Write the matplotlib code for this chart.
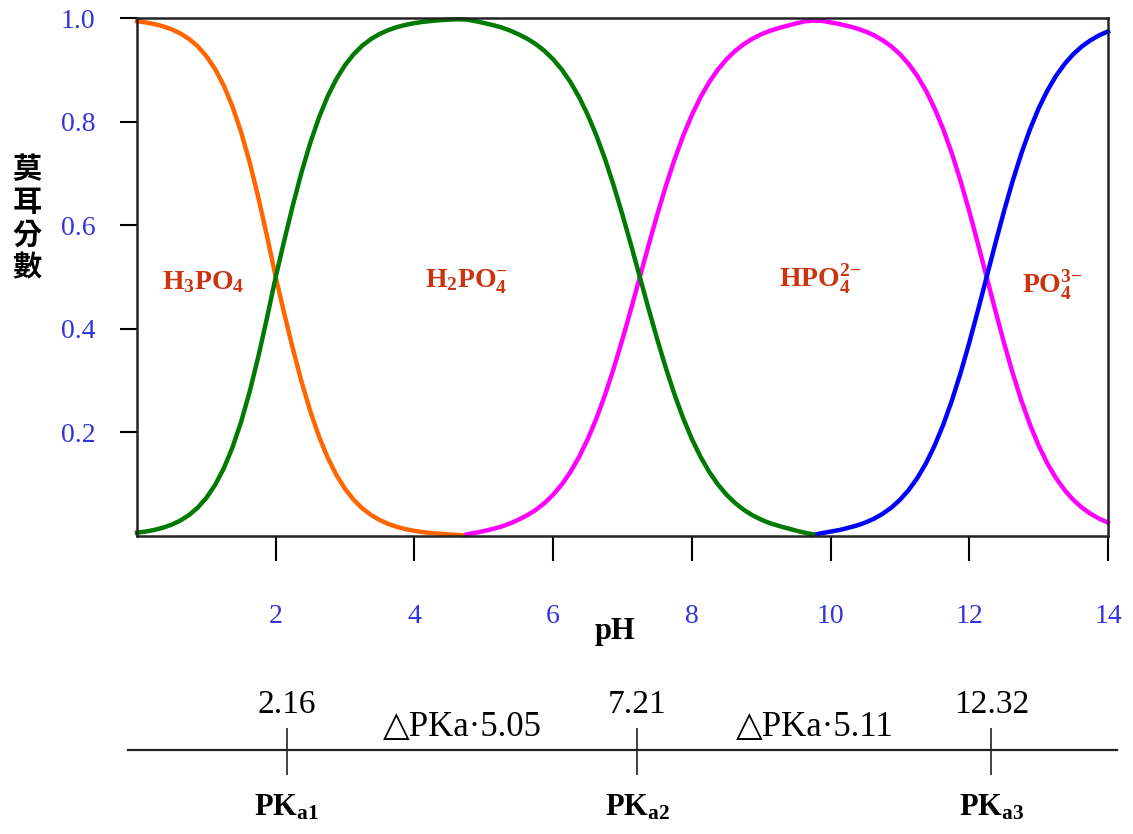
import numpy as np
import matplotlib
matplotlib.use("Agg")
import matplotlib.pyplot as plt

plt.rcParams['font.family'] = ['Liberation Serif', 'DejaVu Sans']
plt.rcParams['mathtext.fontset'] = 'custom'
plt.rcParams['mathtext.rm'] = 'Liberation Serif'
plt.rcParams['mathtext.bf'] = 'Liberation Serif:bold'
plt.rcParams['mathtext.default'] = 'rm'

# pH grid (step 0.125) and mole fractions
ph = np.arange(0, 14.001, 0.125)
h3po4 = [0.9937, 0.9914, 0.9883, 0.984, 0.9781, 0.9702, 0.9595, 0.9453,
         0.9264, 0.9017, 0.8698, 0.8296, 0.7801, 0.7211, 0.6532, 0.5786,
         0.5, 0.4285, 0.3599, 0.2966, 0.2403, 0.1917, 0.151, 0.1177,
         0.0909, 0.0698, 0.0532, 0.0405, 0.0307, 0.0232, 0.0175, 0.0132,
         0.0099, 0.0074, 0.0056, 0.0042, 0.003, 0.002, 0.001]
h2po4 = [0.0063, 0.0086, 0.0117, 0.016, 0.0219, 0.0298, 0.0405, 0.0547,
         0.0736, 0.0983, 0.1302, 0.1704, 0.2199, 0.2789, 0.3468, 0.4214,
         0.5, 0.5715, 0.6401, 0.7034, 0.7597, 0.8083, 0.849, 0.8823,
         0.9091, 0.9302, 0.9468, 0.9595, 0.9693, 0.9768, 0.9825, 0.9868,
         0.9901, 0.9926, 0.9944, 0.9958, 0.9968, 0.9976, 0.997,
         0.994, 0.9905, 0.9865, 0.982, 0.976, 0.9685, 0.9601, 0.9496,
         0.9365, 0.9203, 0.9004, 0.8762, 0.8471, 0.8127, 0.7726, 0.7268,
         0.6757, 0.6199, 0.5609, 0.5, 0.4391, 0.3801, 0.3243, 0.2732,
         0.2274, 0.1873, 0.1529, 0.1238, 0.0996, 0.0797, 0.0635, 0.0504,
         0.0399, 0.0315, 0.0248, 0.0196, 0.015, 0.0105, 0.0065, 0.003]
hpo4 = [0.003, 0.006, 0.0095, 0.0135, 0.018, 0.024, 0.0315, 0.0399,
        0.0504, 0.0635, 0.0797, 0.0996, 0.1238, 0.1529, 0.1873, 0.2274,
        0.2732, 0.3243, 0.3801, 0.4391, 0.5, 0.5609, 0.6199, 0.6757,
        0.7268, 0.7726, 0.8127, 0.8471, 0.8762, 0.9004, 0.9203, 0.9365,
        0.9496, 0.9601, 0.9685, 0.9752, 0.9804, 0.985, 0.9895, 0.9935,
        0.995,
        0.9945, 0.9915, 0.9885, 0.9844, 0.9799, 0.9741, 0.9667, 0.9572,
        0.9453, 0.9302, 0.9114, 0.8882, 0.8598, 0.8255, 0.785, 0.7381,
        0.6851, 0.6267, 0.5643, 0.5, 0.4357, 0.3733, 0.3149, 0.2619,
        0.215, 0.1745, 0.1402, 0.1118, 0.0886, 0.0698, 0.0547, 0.0428,
        0.0333, 0.0259]
po4 = [0.002, 0.0055, 0.0085, 0.0115, 0.0156, 0.0201, 0.0259, 0.0333,
       0.0428, 0.0547, 0.0698, 0.0886, 0.1118, 0.1402, 0.1745, 0.215,
       0.2619, 0.3149, 0.3733, 0.4357, 0.5, 0.5643, 0.6267, 0.6851,
       0.7381, 0.785, 0.8255, 0.8598, 0.8882, 0.9114, 0.9302, 0.9453,
       0.9572, 0.9667, 0.9741]

species = [r'H$_\mathbf{3}$PO$_\mathbf{4}$', r'H$_\mathbf{2}$PO$_\mathbf{4}^\mathbf{-}$',
           r'HPO$_\mathbf{4}^{\mathbf{2}\mathbf{-}}$', r'PO$_\mathbf{4}^{\mathbf{3}\mathbf{-}}$']
label_ph = [0.95, 4.75, 9.85, 13.2]
label_y = [0.49, 0.49, 0.495, 0.485]

pka = [2.16, 7.21, 12.32]
pka_names = [r'PK$_{\mathbf{a1}}$', r'PK$_{\mathbf{a2}}$', r'PK$_{\mathbf{a3}}$']

fig = plt.figure(figsize=(11.33, 8.34), dpi=100, facecolor='white')
W, H = 1133, 834
ax = fig.add_axes([137 / W, 1 - 536 / H, (1108 - 137) / W, (536 - 18) / H])

lw = 3.2
n1 = len(h3po4)
n2 = len(h2po4)
kw = dict(lw=lw, clip_on=False, solid_joinstyle='round')
ax.plot(ph[:n1], h3po4, color='#FF6600', **kw)
ax.plot(ph[n1 - 1:], hpo4, color='#FF00FF', **kw)
ax.plot(ph[n2 - 1:], po4, color='#0000FF', **kw)
ax.plot(ph[:n2], h2po4, color='#007A00', **kw)

ax.set_xlim(0, 14)
ax.set_ylim(0, 1)
ax.set_xticks([2, 4, 6, 8, 10, 12, 14])
ax.set_yticks([0.2, 0.4, 0.6, 0.8, 1.0])
ax.set_yticklabels(['0.2', '0.4', '0.6', '0.8', '1.0'])
ax.tick_params(axis='x', direction='out', length=18, width=1.5, pad=31,
               labelsize=20, labelcolor='#3333DD')
ax.tick_params(axis='y', direction='out', length=12, width=1.5, pad=18,
               labelsize=20, labelcolor='#3333DD')
for s in ax.spines.values():
    s.set_linewidth(1.8)
    s.set_color('#222222')

ax.text(0.492, -0.185, 'pH', transform=ax.transAxes, ha='center', va='center',
        fontsize=22, fontweight='bold')
fig.text(27 / W, 1 - 218 / H, '\n'.join('莫耳分數'), ha='center', va='center',
         fontsize=21, fontweight='bold', linespacing=1.12,
         family=['Noto Sans CJK TC', 'DejaVu Sans'])

for name, x, y in zip(species, label_ph, label_y):
    ax.text(x, y, name, ha='center', va='center', fontsize=20,
            fontweight='bold', color='#CC3311')

# pKa scale below the plot, y in figure pixel rows
ax2 = fig.add_axes([137 / W, 0, (1108 - 137) / W, 174 / H])
ax2.set_xlim(0, 14)
ax2.set_ylim(834, 660)
ax2.axis('off')
ax2.plot([-0.13, 14.13], [750, 750], color='#222222', lw=1.6, clip_on=False)
ax2.vlines(pka, 728, 775, color='#222222', lw=1.2)
for p, name in zip(pka, pka_names):
    ax2.text(p, 705, f'{p:.2f}', ha='center', va='center', fontsize=24)
    ax2.text(p, 808, name, ha='center', va='center', fontsize=22, fontweight='bold')
for a, b in zip(pka[:-1], pka[1:]):
    ax2.text((a + b) / 2, 727, f'△PKa·{b - a:.2f}', ha='center', va='center', fontsize=25)

fig.savefig('out.png', dpi=100)
